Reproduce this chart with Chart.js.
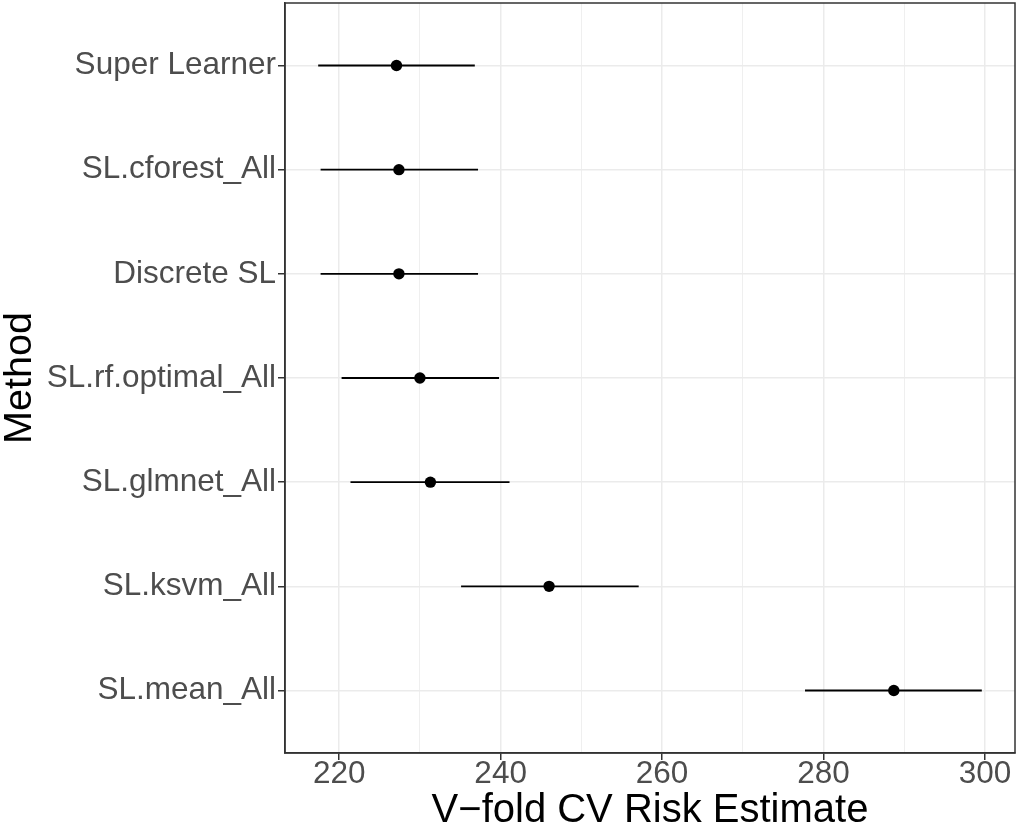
<!DOCTYPE html>
<html>
<head>
<meta charset="utf-8">
<title>V-fold CV Risk Estimate by Method</title>
<script src="https://cdn.jsdelivr.net/npm/chart.js@4"></script>
<style>
  html, body { margin: 0; padding: 0; background: #ffffff; }
  #wrap { width: 1016px; height: 829px; }
</style>
</head>
<body>
<div id="wrap"><canvas id="riskChart" width="1016" height="829"></canvas></div>
<script>
// CV risk per learner, with lower / upper interval ends
const methods = ["Super Learner", "SL.cforest_All", "Discrete SL", "SL.rf.optimal_All", "SL.glmnet_All", "SL.ksvm_All", "SL.mean_All"];
const riskEstimate = [227.1, 227.4, 227.4, 230.0, 231.3, 246.0, 288.7];
const ciLower = [217.4, 217.7, 217.7, 220.3, 221.4, 235.1, 277.7];
const ciUpper = [236.8, 237.2, 237.2, 239.8, 241.1, 257.1, 299.6];
const xTicks = [220, 230, 240, 250, 260, 270, 280, 290, 300];
const xLabels = [220, 240, 260, 280, 300];

const GRID = "#EBEBEB";
const INK = "#333333";
const TICK_TEXT = "#4D4D4D";

Chart.defaults.font.family = "'Liberation Sans', Arial, sans-serif";

// 5% padding on each side of the data range
const lo = Math.min(...ciLower);
const hi = Math.max(...ciUpper);
const pad = (hi - lo) * 0.05;

const isLabelled = (v) => xLabels.includes(v);

// frame round the whole panel
const panelBorder = {
  id: "panelBorder",
  afterDatasetsDraw(chart) {
    const { ctx, chartArea: a } = chart;
    ctx.save();
    ctx.strokeStyle = INK;
    ctx.lineWidth = 1.5;
    ctx.strokeRect(a.left, a.top, a.right - a.left, a.bottom - a.top);
    ctx.restore();
  }
};

const pointSet = {
  label: "Estimate",
  data: riskEstimate.map((v, i) => ({ x: v, y: i })),
  pointRadius: 5.7,
  pointBackgroundColor: "#000000",
  pointBorderWidth: 0,
  showLine: false
};

const intervalSets = methods.map((m, i) => ({
  label: m,
  data: [{ x: ciLower[i], y: i }, { x: ciUpper[i], y: i }],
  showLine: true,
  borderColor: "#000000",
  borderWidth: 1.9,
  pointRadius: 0
}));

new Chart(document.getElementById("riskChart"), {
  type: "scatter",
  data: { datasets: [pointSet, ...intervalSets] },
  plugins: [panelBorder],
  options: {
    responsive: false,
    animation: false,
    layout: { autoPadding: false, padding: { top: 3, right: 1, left: 0, bottom: 0 } },
    plugins: { legend: { display: false }, tooltip: { enabled: false } },
    scales: {
      x: {
        type: "linear",
        min: lo - pad,
        max: hi + pad,
        afterBuildTicks: (axis) => { axis.ticks = xTicks.map((v) => ({ value: v })); },
        afterFit: (axis) => {
          axis.height = 76;
          axis.paddingLeft = 0;
          axis.paddingRight = 0;
        },
        grid: {
          color: GRID,
          lineWidth: (c) => (c.tick && isLabelled(c.tick.value) ? 1.5 : 0.8),
          tickColor: (c) => (c.tick && isLabelled(c.tick.value) ? INK : "rgba(0,0,0,0)"),
          tickLength: 7,
          tickWidth: 1.5
        },
        border: { color: INK, width: 1.5 },
        ticks: {
          autoSkip: false,
          maxRotation: 0,
          padding: 0,
          color: TICK_TEXT,
          font: { size: 31.5, lineHeight: 0.9 },
          callback: (v) => (isLabelled(v) ? String(v) : "")
        },
        title: {
          display: true,
          text: "V\u2212fold CV Risk Estimate",
          color: "#000000",
          font: { size: 40, lineHeight: 0.9 },
          padding: 0
        }
      },
      y: {
        type: "linear",
        min: -0.6,
        max: methods.length - 0.4,
        reverse: true,
        afterBuildTicks: (axis) => { axis.ticks = methods.map((_, i) => ({ value: i })); },
        afterFit: (axis) => {
          axis.width = 285;
          axis.paddingTop = 0;
          axis.paddingBottom = 0;
        },
        grid: { color: GRID, lineWidth: 1.5, tickColor: INK, tickLength: 7, tickWidth: 1.5 },
        border: { color: INK, width: 1.5 },
        ticks: {
          padding: 2,
          color: TICK_TEXT,
          font: { size: 31.5 },
          callback: (v) => methods[v]
        },
        title: {
          display: true,
          text: "Method",
          color: "#000000",
          font: { size: 39.5, lineHeight: 1 },
          padding: 0
        }
      }
    }
  }
});
</script>
</body>
</html>
